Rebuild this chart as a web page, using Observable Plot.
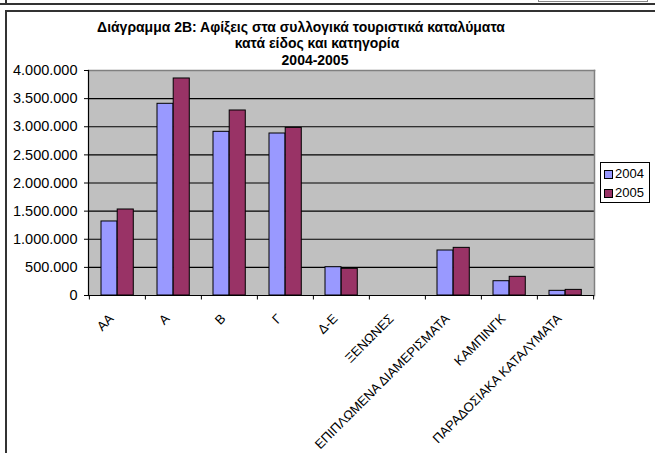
<!DOCTYPE html>
<html>
<head>
<meta charset="utf-8">
<script src="https://cdn.jsdelivr.net/npm/d3@7"></script>
<script src="https://cdn.jsdelivr.net/npm/@observablehq/plot@0.6"></script>
<style>
  html, body { margin: 0; padding: 0; background: #fff; }
  #wrap { position: relative; width: 655px; height: 453px; overflow: hidden; font-family: Arial, "Liberation Sans", sans-serif; }
  #wrap svg { position: absolute; left: 0; top: 0; }
  .line { position: absolute; background: #333; }
  #legend { position: absolute; left: 600px; top: 162px; width: 48px; height: 39px; border: 1px solid #000; background: #fff; font-size: 13px; line-height: 14px; color: #000; }
  .item { position: absolute; left: 3px; display: flex; align-items: center; }
  .sw { width: 7px; height: 7px; border: 1px solid #000; margin-right: 2px; }
</style>
</head>
<body>
<div id="wrap"></div>
<script>
const categories = ["ΑΑ", "Α", "Β", "Γ", "Δ-Ε", "ΞΕΝΩΝΕΣ", "ΕΠΙΠΛΩΜΕΝΑ ΔΙΑΜΕΡΙΣΜΑΤΑ", "ΚΑΜΠΙΝΓΚ", "ΠΑΡΑΔΟΣΙΑΚΑ ΚΑΤΑΛΥΜΑΤΑ"];
const values2004 = [1316000, 3408000, 2910000, 2880000, 503000, 0, 800000, 254000, 83000];
const values2005 = [1529000, 3858000, 3289000, 2980000, 474000, 0, 847000, 332000, 100000];
const series = ["2004", "2005"];
const seriesColors = ["#9999ff", "#993366"];
const yTicks = [0, 500000, 1000000, 1500000, 2000000, 2500000, 3000000, 3500000, 4000000];
const titleLines = ["Διάγραμμα 2Β: Αφίξεις στα συλλογικά τουριστικά καταλύματα", "κατά είδος και κατηγορία", "2004-2005"];

const d2004 = categories.map((c, i) => ({cat: c, value: values2004[i]}));
const d2005 = categories.map((c, i) => ({cat: c, value: values2005[i]}));

const W = 655, H = 453, mL = 88, mR = 61, mT = 70, mB = 158;
const step = (W - mL - mR) / categories.length;
const fmt = d3.formatLocale({decimal: ",", thousands: ".", grouping: [3], currency: ["", ""]}).format(",");
const font = "Arial, 'Liberation Sans', sans-serif";

const chart = Plot.plot({
  width: W, height: H,
  marginLeft: mL, marginRight: mR, marginTop: mT, marginBottom: mB,
  style: {fontFamily: font, fontSize: "13px", color: "#000", background: "transparent"},
  x: {domain: categories, padding: 0, axis: null},
  y: {domain: [0, 4000000], axis: null},
  marks: [
    Plot.frame({fill: "#c0c0c0", stroke: null}),
    Plot.ruleY(yTicks.slice(1, -1), {stroke: "#000", strokeWidth: 1.2}),
    Plot.frame({anchor: "top", stroke: "#808080", strokeWidth: 1.5}),
    Plot.frame({anchor: "right", stroke: "#808080", strokeWidth: 1.5}),
    Plot.barY(d2004, {x: "cat", y: "value", fill: seriesColors[0], stroke: "#000", strokeWidth: 1, insetLeft: 12, insetRight: step - 28.2}),
    Plot.barY(d2005, {x: "cat", y: "value", fill: seriesColors[1], stroke: "#000", strokeWidth: 1, insetLeft: 28.2, insetRight: step - 44.5}),
    Plot.ruleY([0], {stroke: "#000", strokeWidth: 1.2}),
    Plot.frame({anchor: "left", stroke: "#000", strokeWidth: 1.2}),
    Plot.ruleX(categories, {x: d => d, y1: 0, y2: -80000, dx: -step / 2, stroke: "#000"}),
    Plot.ruleX(categories.slice(-1), {x: d => d, y1: 0, y2: -80000, dx: step / 2, stroke: "#000"}),
    Plot.axisY({ticks: yTicks, tickFormat: fmt, tickSize: 4, tickPadding: 7, fontSize: 14.5, label: null, stroke: "#000"}),
    Plot.axisX({tickSize: 0, tickRotate: -45, tickPadding: 21, dx: -6, fontSize: 13, label: null})
  ]
});

const wrap = document.getElementById("wrap");
wrap.appendChild(chart);

// title lines (bold, centred as in the reference)
const svg = d3.select(chart);
const tx = [301, 317, 315];
const ys = [31.5, 48, 64.5];
const tnodes = titleLines.map((t, i) => svg.append("text")
  .attr("x", tx[i]).attr("y", ys[i])
  .attr("text-anchor", "middle")
  .style("font-family", font).style("font-weight", "bold").style("font-size", "13px")
  .text(t));
const len = tnodes[0].node().getComputedTextLength();
const fs = len > 0 ? 13 * 408 / len : 14;
tnodes.forEach(n => n.style("font-size", fs.toFixed(2) + "px"));

// frame borders
function line(l, t, w, h) { const d = document.createElement("div"); d.className = "line"; Object.assign(d.style, {left: l + "px", top: t + "px", width: w + "px", height: h + "px"}); wrap.appendChild(d); }
line(0, 3, 655, 2);
line(5, 0, 2, 4);
line(5, 10, 650, 2);
line(5, 10, 2, 443);
const box = document.createElement("div");
Object.assign(box.style, {position: "absolute", left: "538px", top: "-10px", width: "108px", height: "10px", border: "1px solid #888"});
wrap.appendChild(box);

// legend
const lg = document.createElement("div");
lg.id = "legend";
series.forEach((s, i) => {
  const it = document.createElement("div");
  it.className = "item";
  it.style.top = (4 + i * 19) + "px";
  const sw = document.createElement("div");
  sw.className = "sw"; sw.style.background = seriesColors[i];
  const t = document.createElement("span"); t.textContent = s;
  it.appendChild(sw); it.appendChild(t);
  lg.appendChild(it);
});
wrap.appendChild(lg);
</script>
</body>
</html>
